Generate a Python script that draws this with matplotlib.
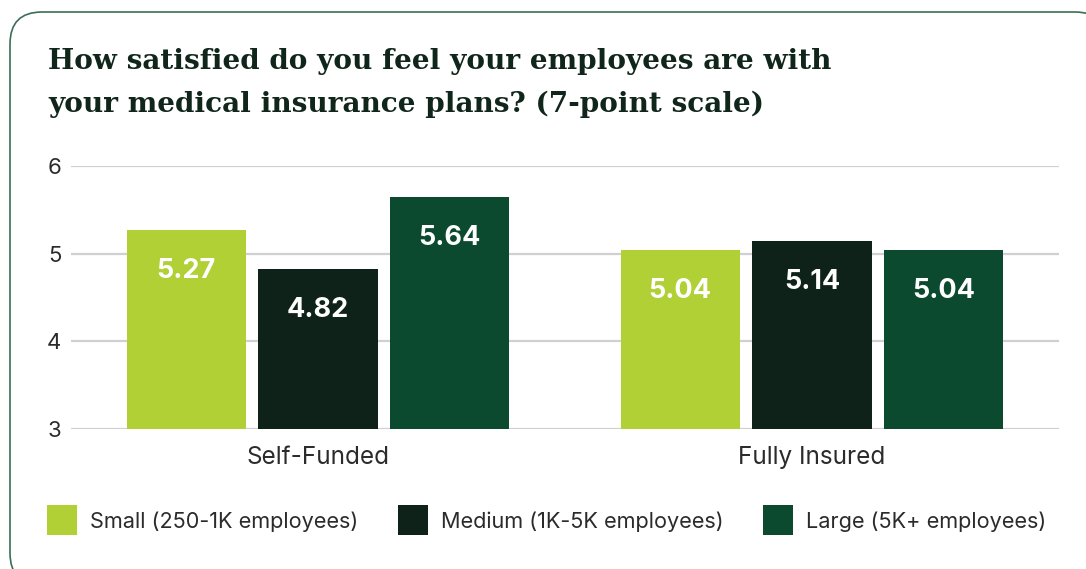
import matplotlib
matplotlib.use("Agg")
import matplotlib.pyplot as plt
from matplotlib.patches import FancyBboxPatch, Rectangle
import numpy as np

# Survey results: average satisfaction on a 7-point scale
categories = ["Self-Funded", "Fully Insured"]
series_names = ["Small (250-1K employees)", "Medium (1K-5K employees)", "Large (5K+ employees)"]
small = [5.27, 5.04]
medium = [4.82, 5.14]
large = [5.64, 5.04]
yticks = [3, 4, 5, 6]

colors = ["#b1d036", "#0f2219", "#0b4a2e"]
title_lines = ["How satisfied do you feel your employees are with",
               "your medical insurance plans? (7-point scale)"]

W, H = 1086, 569
fig = plt.figure(figsize=(W / 100, H / 100), dpi=100)
fig.patch.set_facecolor("white")

sans = ["Inter", "DejaVu Sans"]
serif = ["DejaVu Serif", "Liberation Serif"]

# Card frame drawn on a full-figure overlay measured in pixels
bg = fig.add_axes([0, 0, 1, 1], zorder=-1)
bg.set_xlim(0, W)
bg.set_ylim(H, 0)
bg.axis("off")
bg.add_patch(FancyBboxPatch((10, 12), 1097, 573,
                            boxstyle="round,pad=0,rounding_size=32",
                            facecolor="white", edgecolor="#3b6e56", linewidth=1.2))

# Title
for line, base in zip(title_lines, [69, 112]):
    fig.text(48 / W, 1 - base / H, line, family=serif, weight="bold",
             fontsize=20.1, color="#10261b", va="baseline", ha="left")

# Bar chart
ax = fig.add_axes([71 / W, 1 - 429.3 / H, 988 / W, (429.3 - 165.7) / H])
x = np.arange(len(categories))
width = 0.241
step = 0.267
all_series = [small, medium, large]
for i, (vals, c) in enumerate(zip(all_series, colors)):
    pos = x + (i - 1) * step
    ax.bar(pos, vals, width=width, color=c, zorder=3)
    for xp, v in zip(pos, vals):
        ax.annotate(f"{v:.2f}", xy=(xp, v), xytext=(0, -29.5), textcoords="offset points",
                    ha="center", va="center", color="white", fontsize=19.5,
                    weight="bold", family=sans, zorder=4)

ax.set_xlim(-0.5, 1.5)
ax.set_ylim(3, 6)
ax.set_yticks(yticks)
ax.set_yticklabels([str(t) for t in yticks], family=sans, fontsize=16, color="#2b2b2b")
ax.set_xticks(x)
ax.set_xticklabels(categories, family=sans, fontsize=17.5, color="#2b2b2b")
ax.tick_params(axis="both", length=0)
ax.tick_params(axis="y", pad=7)
ax.tick_params(axis="x", pad=12)
ax.grid(axis="y", color="#d0d0d0", linewidth=1.6, zorder=0)
ax.set_axisbelow(True)
for s in ax.spines.values():
    s.set_visible(False)
ax.set_facecolor("none")

# Legend
legend_x = [47, 398, 763]
for lx, name, c in zip(legend_x, series_names, colors):
    bg.add_patch(Rectangle((lx, 505), 30, 30, facecolor=c, edgecolor="none"))
    bg.text(lx + 43, 520, name, family=sans, fontsize=15.6, color="#2b2b2b",
            va="center_baseline", ha="left")

fig.savefig("out.png", dpi=100, facecolor="white")
